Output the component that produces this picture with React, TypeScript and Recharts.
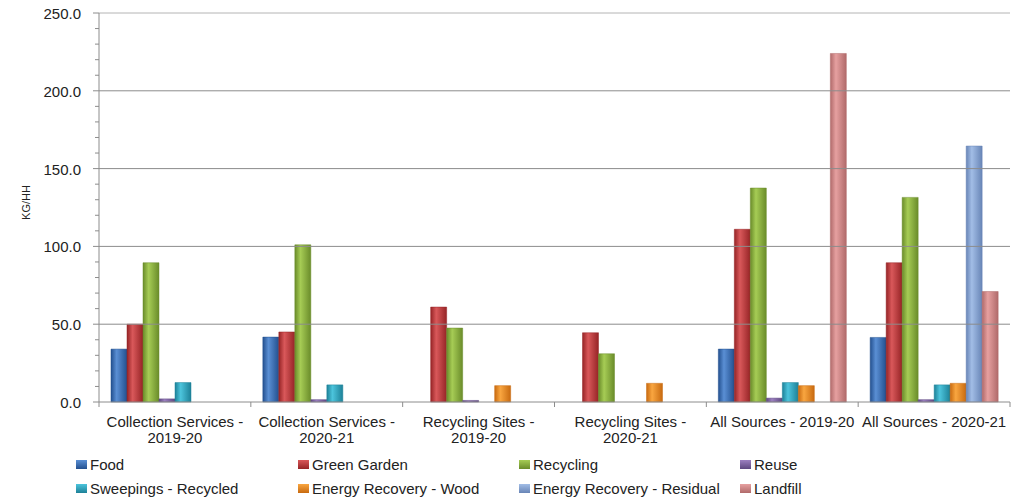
import React from "react";
import {
  BarChart,
  Bar,
  XAxis,
  YAxis,
  ReferenceLine,
} from "recharts";

// categories (two-line labels split on "\n")
const categories = [
  "Collection Services -\n2019-20",
  "Collection Services -\n2020-21",
  "Recycling Sites -\n2019-20",
  "Recycling Sites -\n2020-21",
  "All Sources - 2019-20",
  "All Sources - 2020-21",
];

// KG per household
const food = [34, 41.7, 0, 0, 34, 41.5];
const greenGarden = [50, 45, 61, 44.5, 111, 89.5];
const recycling = [89.5, 101, 47.5, 31, 137.5, 131.5];
const reuse = [2, 1.5, 1, 0, 2.5, 1.5];
const sweepings = [12.5, 11, 0, 0, 12.5, 11];
const energyWood = [0, 0, 10.5, 12, 10.5, 12];
const energyResidual = [0, 0, 0, 0, 0, 164.5];
const landfill = [0, 0, 0, 0, 224, 71];

const yMinorTicks = Array.from({ length: 26 }, (_, i) => i * 10);
const yMajorTicks = [0, 50, 100, 150, 200, 250];

const font = "'Liberation Sans', Arial, sans-serif";

type Series = { key: string; name: string; values: number[]; light: string; dark: string };

const series: Series[] = [
  { key: "food", name: "Food", values: food, light: "#5a8fd4", dark: "#23508f" },
  { key: "greenGarden", name: "Green Garden", values: greenGarden, light: "#d9585a", dark: "#962426" },
  { key: "recycling", name: "Recycling", values: recycling, light: "#a6cc55", dark: "#6a8c2a" },
  { key: "reuse", name: "Reuse", values: reuse, light: "#9c80c0", dark: "#5e4880" },
  { key: "sweepings", name: "Sweepings - Recycled", values: sweepings, light: "#4cc4dc", dark: "#1d8198" },
  { key: "energyWood", name: "Energy Recovery - Wood", values: energyWood, light: "#f9a640", dark: "#c86a10" },
  { key: "energyResidual", name: "Energy Recovery - Residual", values: energyResidual, light: "#a2bde6", dark: "#6885b6" },
  { key: "landfill", name: "Landfill", values: landfill, light: "#e6a0a0", dark: "#b06a6a" },
];

const data = categories.map((name, i) => {
  const row: Record<string, number | string> = { name };
  series.forEach((s) => {
    row[s.key] = s.values[i];
  });
  return row;
});

const YTick = ({ x, y, payload }: any) => {
  const v = payload.value as number;
  const major = v % 50 === 0;
  return (
    <g>
      <line x1={x - (major ? 6 : 4)} x2={x} y1={y} y2={y} stroke="#8c8c8c" />
      {major && (
        <text x={x - 18} y={y + 6} textAnchor="end" fontSize={15} fill="#222" fontFamily={font}>
          {v.toFixed(1)}
        </text>
      )}
    </g>
  );
};

const XTick = ({ x, y, payload, index, visibleTicksCount }: any) => {
  const lines = String(payload.value).split("\n");
  const half = payload.offset || 0;
  const last = index === visibleTicksCount - 1;
  return (
    <g>
      <line x1={x - half} x2={x - half} y1={y} y2={y + 5} stroke="#8c8c8c" />
      {last && <line x1={x + half} x2={x + half} y1={y} y2={y + 5} stroke="#8c8c8c" />}
      <text x={x} y={y} textAnchor="middle" fontSize={15} fill="#222" fontFamily={font}>
        {lines.map((l, i) => (
          <tspan key={i} x={x} dy={i === 0 ? 25 : 16}>
            {l}
          </tspan>
        ))}
      </text>
    </g>
  );
};

const Legend = () => (
  <div
    style={{
      position: "absolute",
      left: 76,
      top: 452,
      display: "grid",
      gridTemplateColumns: "222px 221px 221px 120px",
      gridAutoRows: "24.5px",
      fontFamily: font,
      fontSize: 15,
      color: "#222",
    }}
  >
    {series.map((s) => (
      <div key={s.key} style={{ display: "flex", alignItems: "center", whiteSpace: "nowrap" }}>
        <span
          style={{
            display: "inline-block",
            width: 11,
            height: 9,
            marginRight: 3,
            background: `linear-gradient(180deg, ${s.light}, ${s.dark})`,
          }}
        />
        {s.name}
      </div>
    ))}
  </div>
);

export default function App() {
  return (
    <div style={{ position: "absolute", left: 0, top: 0, width: 1022, height: 499, background: "#fff" }}>
      <BarChart
        width={1022}
        height={499}
        data={data}
        margin={{ top: 13, right: 12, bottom: 52, left: 0 }}
        barCategoryGap={12}
        barGap={0}
      >
        <defs>
          {series.map((s) => (
            <linearGradient key={s.key} id={`grad-${s.key}`} x1="0" y1="0" x2="1" y2="0">
              <stop offset="0%" stopColor={s.dark} />
              <stop offset="35%" stopColor={s.light} />
              <stop offset="100%" stopColor={s.dark} />
            </linearGradient>
          ))}
        </defs>
        <XAxis
          dataKey="name"
          interval={0}
          tick={<XTick />}
          tickLine={false}
          tickSize={0}
          tickMargin={0}
          height={45}
          axisLine={{ stroke: "#8c8c8c" }}
        />
        <YAxis
          width={99}
          domain={[0, 250]}
          ticks={yMinorTicks}
          interval={0}
          tick={<YTick />}
          tickLine={false}
          tickSize={0}
          tickMargin={0}
          axisLine={{ stroke: "#8c8c8c" }}
          label={{
            value: "KG/HH",
            angle: -90,
            position: "insideLeft",
            offset: 22,
            dx: 4,
            dy: -5,
            style: { fontSize: 11, fill: "#222", fontFamily: font, textAnchor: "middle" },
          }}
        />
        {yMajorTicks.slice(1).map((v) => (
          <ReferenceLine key={v} y={v} stroke={v === 250 ? "#b4b4b4" : "#8c8c8c"} />
        ))}
        {series.map((s) => (
          <Bar
            key={s.key}
            dataKey={s.key}
            name={s.name}
            fill={`url(#grad-${s.key})`}
            stroke={s.dark}
            strokeWidth={0.5}
            isAnimationActive={false}
          />
        ))}
      </BarChart>
      <Legend />
    </div>
  );
}
